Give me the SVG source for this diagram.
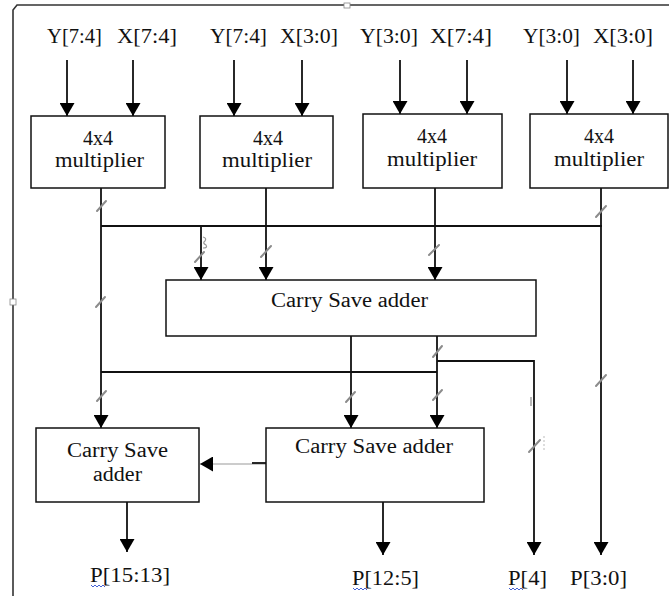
<svg xmlns="http://www.w3.org/2000/svg" width="669" height="596" viewBox="0 0 669 596">
<style>
.box{fill:#fff;stroke:#111;stroke-width:1.5}
.ln{fill:none;stroke:#111;stroke-width:1.8}
.thin{fill:none;stroke:#999;stroke-width:1.2}
.tick{stroke:#8c8c8c;stroke-width:2;stroke-linecap:round}
.frame{fill:none;stroke:#333;stroke-width:1.6}
text{font-family:"Liberation Serif","Times New Roman",serif;font-size:20px;fill:#111}
.sq{fill:none;stroke:#3050d0;stroke-width:0.9}
</style>
<defs>
<marker id="ah" viewBox="0 0 13 15" refX="13" refY="7.5" markerWidth="13" markerHeight="15" orient="auto" markerUnits="userSpaceOnUse">
<path d="M0,0 L13,7.5 L0,15 z" fill="#000"/>
</marker>
</defs>
<rect width="669" height="596" fill="#fff"/>
<g id="frame">
<path class="frame" d="M13,596 V10 L17,5 H669"/>
<rect x="344" y="3" width="6" height="5" fill="#fff" stroke="#888" stroke-width="0.8"/>
<rect x="10" y="299" width="6" height="6" fill="#fff" stroke="#888" stroke-width="0.8"/>
</g>
<g id="inputs">
<text x="47" y="43" textLength="55" lengthAdjust="spacingAndGlyphs">Y[7:4]</text>
<text x="117" y="43" textLength="60" lengthAdjust="spacingAndGlyphs">X[7:4]</text>
<text x="210" y="43" textLength="57" lengthAdjust="spacingAndGlyphs">Y[7:4]</text>
<text x="280" y="43" textLength="58" lengthAdjust="spacingAndGlyphs">X[3:0]</text>
<text x="360" y="43" textLength="58" lengthAdjust="spacingAndGlyphs">Y[3:0]</text>
<text x="430" y="43" textLength="62" lengthAdjust="spacingAndGlyphs">X[7:4]</text>
<text x="523" y="43" textLength="57" lengthAdjust="spacingAndGlyphs">Y[3:0]</text>
<text x="593" y="43" textLength="60" lengthAdjust="spacingAndGlyphs">X[3:0]</text>
</g>
<g id="connectors">
<line class="ln" x1="67" y1="60" x2="67" y2="116" marker-end="url(#ah)"/>
<line class="ln" x1="133" y1="60" x2="133" y2="116" marker-end="url(#ah)"/>
<line class="ln" x1="234" y1="60" x2="234" y2="116" marker-end="url(#ah)"/>
<line class="ln" x1="302" y1="60" x2="302" y2="116" marker-end="url(#ah)"/>
<line class="ln" x1="400" y1="60" x2="400" y2="114" marker-end="url(#ah)"/>
<line class="ln" x1="467" y1="60" x2="467" y2="114" marker-end="url(#ah)"/>
<line class="ln" x1="567" y1="60" x2="567" y2="114" marker-end="url(#ah)"/>
<line class="ln" x1="633" y1="60" x2="633" y2="114" marker-end="url(#ah)"/>
<line class="ln" x1="101" y1="188" x2="101" y2="428" marker-end="url(#ah)"/>
<line class="ln" x1="101" y1="226" x2="602" y2="226"/>
<line class="ln" x1="201" y1="226" x2="201" y2="280" marker-end="url(#ah)"/>
<line class="ln" x1="266" y1="188" x2="266" y2="280" marker-end="url(#ah)"/>
<line class="ln" x1="435" y1="188" x2="435" y2="280" marker-end="url(#ah)"/>
<line class="ln" x1="601" y1="188" x2="601" y2="555" marker-end="url(#ah)"/>
<line class="ln" x1="351" y1="336" x2="351" y2="428" marker-end="url(#ah)"/>
<line class="ln" x1="437" y1="336" x2="437" y2="428" marker-end="url(#ah)"/>
<line class="ln" x1="101" y1="372" x2="437" y2="372"/>
<path class="ln" d="M437,361 H534 V555" marker-end="url(#ah)"/>
<line class="ln" x1="127" y1="502" x2="127" y2="552" marker-end="url(#ah)"/>
<line class="ln" x1="383" y1="502" x2="383" y2="555" marker-end="url(#ah)"/>
<line class="thin" x1="266" y1="464" x2="200" y2="464" marker-end="url(#ah)"/>
<line class="ln" x1="252" y1="463" x2="266" y2="463"/>
<line class="tick" x1="97" y1="211" x2="106" y2="201"/>
<line class="tick" x1="96" y1="307" x2="105" y2="297"/>
<line class="tick" x1="97" y1="401" x2="106" y2="391"/>
<line class="tick" x1="195" y1="262" x2="204" y2="252"/>
<path d="M203,237 q4,1 2,4 q-3,2 1,4 q2,3 -3,3" fill="none" stroke="#999" stroke-width="1.2"/>
<line class="tick" x1="261" y1="257" x2="271" y2="246"/>
<line class="tick" x1="429" y1="255" x2="439" y2="245"/>
<line class="tick" x1="596" y1="217" x2="606" y2="206"/>
<line class="tick" x1="596" y1="386" x2="606" y2="375"/>
<line class="tick" x1="433" y1="357" x2="442" y2="346"/>
<line class="tick" x1="433" y1="400" x2="442" y2="390"/>
<line class="tick" x1="346" y1="402" x2="355" y2="392"/>
<line class="tick" x1="529" y1="452" x2="540" y2="440"/>
<line x1="531" y1="397" x2="531" y2="406" stroke="#888" stroke-width="1.2"/>
<line x1="544" y1="436" x2="544" y2="452" stroke="#bbb" stroke-width="1" stroke-dasharray="2,2"/>
</g>
<g id="mult1">
<rect class="box" x="31" y="116" width="134" height="72"/>
<text x="98" y="145" text-anchor="middle">4x4</text>
<text x="55" y="167" textLength="89" lengthAdjust="spacingAndGlyphs">multiplier</text>
</g>
<g id="mult2">
<rect class="box" x="200" y="116" width="133" height="72"/>
<text x="268" y="145" text-anchor="middle">4x4</text>
<text x="222" y="167" textLength="90" lengthAdjust="spacingAndGlyphs">multiplier</text>
</g>
<g id="mult3">
<rect class="box" x="363" y="114" width="139" height="74"/>
<text x="432" y="143" text-anchor="middle">4x4</text>
<text x="387" y="166" textLength="90" lengthAdjust="spacingAndGlyphs">multiplier</text>
</g>
<g id="mult4">
<rect class="box" x="530" y="114" width="138" height="74"/>
<text x="599" y="143" text-anchor="middle">4x4</text>
<text x="554" y="166" textLength="90" lengthAdjust="spacingAndGlyphs">multiplier</text>
</g>
<g id="csa1">
<rect class="box" x="166" y="280" width="370" height="56"/>
<text x="271" y="307" textLength="157" lengthAdjust="spacingAndGlyphs">Carry Save adder</text>
</g>
<g id="csa2">
<rect class="box" x="36" y="428" width="163" height="74"/>
<text x="67" y="457" textLength="101" lengthAdjust="spacingAndGlyphs">Carry Save</text>
<text x="93" y="481" textLength="49" lengthAdjust="spacingAndGlyphs">adder</text>
</g>
<g id="csa3">
<rect class="box" x="266" y="428" width="218" height="74"/>
<text x="295" y="453" textLength="158" lengthAdjust="spacingAndGlyphs">Carry Save adder</text>
</g>
<g id="outputs">
<text x="90" y="582" textLength="80" lengthAdjust="spacingAndGlyphs">P[15:13]</text>
<text x="352" y="585" textLength="67" lengthAdjust="spacingAndGlyphs">P[12:5]</text>
<text x="508" y="585" textLength="39" lengthAdjust="spacingAndGlyphs">P[4]</text>
<text x="570" y="585" textLength="57" lengthAdjust="spacingAndGlyphs">P[3:0]</text>
<path class="sq" d="M91,585 l2,2 l2,-2 l2,2 l2,-2 l2,2 l2,-2 l2,2"/>
<path class="sq" d="M353,588 l2,2 l2,-2 l2,2 l2,-2 l2,2 l2,-2 l2,2"/>
<path class="sq" d="M509,588 l2,2 l2,-2 l2,2 l2,-2 l2,2 l2,-2 l2,2"/>
</g>
</svg>
